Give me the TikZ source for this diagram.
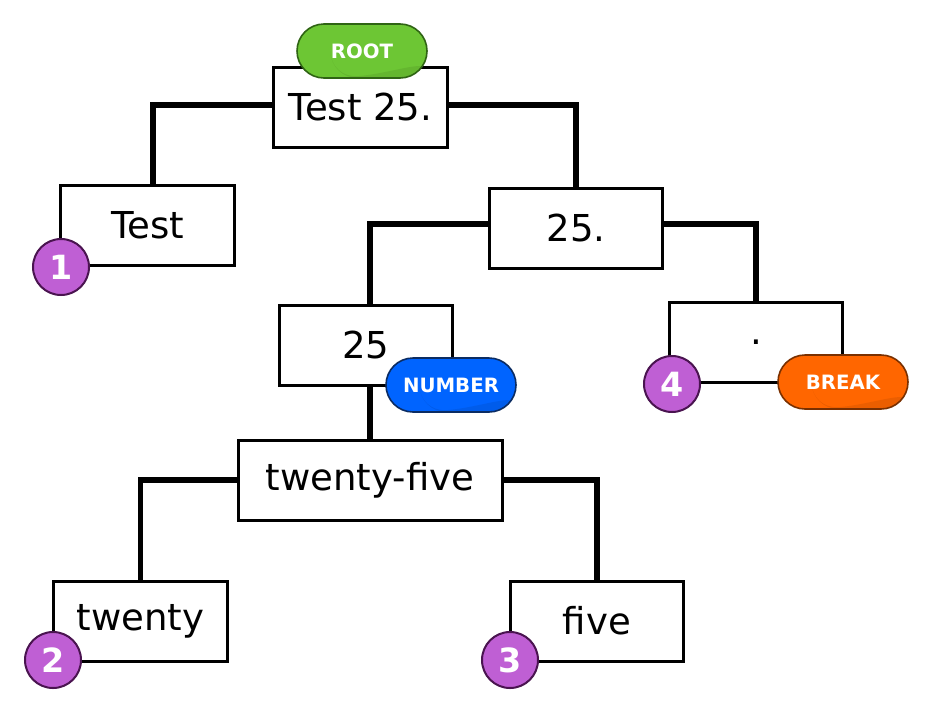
\documentclass[tikz,border=0pt]{standalone}
\usepackage{fontspec}
\setmainfont{DejaVu Sans}
\usepackage{xcolor}
\usetikzlibrary{positioning, calc}

\definecolor{rootgreen}{HTML}{6DC634}
\definecolor{rootedge}{HTML}{2F6414}
\definecolor{numblue}{HTML}{0064FF}
\definecolor{numedge}{HTML}{0B2C63}
\definecolor{breakorange}{HTML}{FF6600}
\definecolor{breakedge}{HTML}{7A3000}
\definecolor{circfill}{HTML}{BF5FD4}
\definecolor{circedge}{HTML}{4A1450}

\begin{document}
\begin{tikzpicture}[ x = 0.75pt, y = -0.75pt
                     , box/.style = { rectangle
                                    , draw = black
                                    , fill = white
                                    , line width = 2.25pt
                                    , minimum width = 130pt
                                    , minimum height = 60pt
                                    , font = \fontsize{27.8}{32}\selectfont }
                     , tag/.style = { rectangle
                                    , rounded corners = 20.25pt
                                    , draw = #1
                                    , line width = 1.2pt
                                    , minimum width = 97.5pt
                                    , minimum height = 40.5pt
                                    , text = white
                                    , font = \fontsize{14.8}{16}\bfseries
                                    , path picture = {\fill[black, opacity = 0.08]
                                        ([xshift = 25pt]path picture bounding box.south west)
                                        .. controls ([xshift = 20pt, yshift = 3pt]path picture bounding box.south)
                                        and ([yshift = -6pt]path picture bounding box.east)
                                        .. ([yshift = 6pt]path picture bounding box.east)
                                        |- cycle;} }
                     , num/.style = { circle
                                    , draw = circedge
                                    , fill = circfill
                                    , line width = 1.5pt
                                    , minimum size = 42pt
                                    , inner sep = 0pt
                                    , text = white
                                    , font = \fontsize{25}{26}\bfseries }
                     , link/.style = { line width = 4.2pt }
                     ]

  \useasboundingbox (0,0) rectangle (934,714);

  % boxes
  \node (root) [box] at (360.5,107) {Test 25.};
  \node (test) [box] at (147.5,225) {Test};
  \node (n25dot) [box] at (576,228) {25.};
  \node (n25) [box] at (366,345) {25};
  \node (dot) [box] at (756,342) {.};
  \node (tf) [box, minimum width = 198pt] at (370,480) {twenty-five};
  \node (twenty) [box] at (140.5,621) {twenty};
  \node (five) [box] at (597,621) {five};

  % links
  \draw[link] ([yshift = 1.5pt]root.west) -| ([xshift = 4pt]test.north);
  \draw[link] ([yshift = 1.5pt]root.east) -| (n25dot.north);
  \draw[link] ([yshift = 3pt]n25dot.west) -| ([xshift = 3pt]n25.north);
  \draw[link] ([yshift = 3pt]n25dot.east) -| (dot.north);
  \draw[link] (tf.north) -- (tf.north |- n25.south);
  \draw[link] (tf.west) -| (twenty.north);
  \draw[link] (tf.east) -| (five.north);

  % tags
  \node (roottag) [tag = rootedge, fill = rootgreen] at (362,51) {ROOT};
  \node (numtag) [tag = numedge, fill = numblue] at (451,385) {NUMBER};
  \node (breaktag) [tag = breakedge, fill = breakorange] at (843,382) {BREAK};

  \node (one) [num] at (61,267) {1};
  \node (two) [num] at (53,660) {2};
  \node (three) [num] at (510,660) {3};
  \node (four) [num] at (672,384) {4};

\end{tikzpicture}
\end{document}
